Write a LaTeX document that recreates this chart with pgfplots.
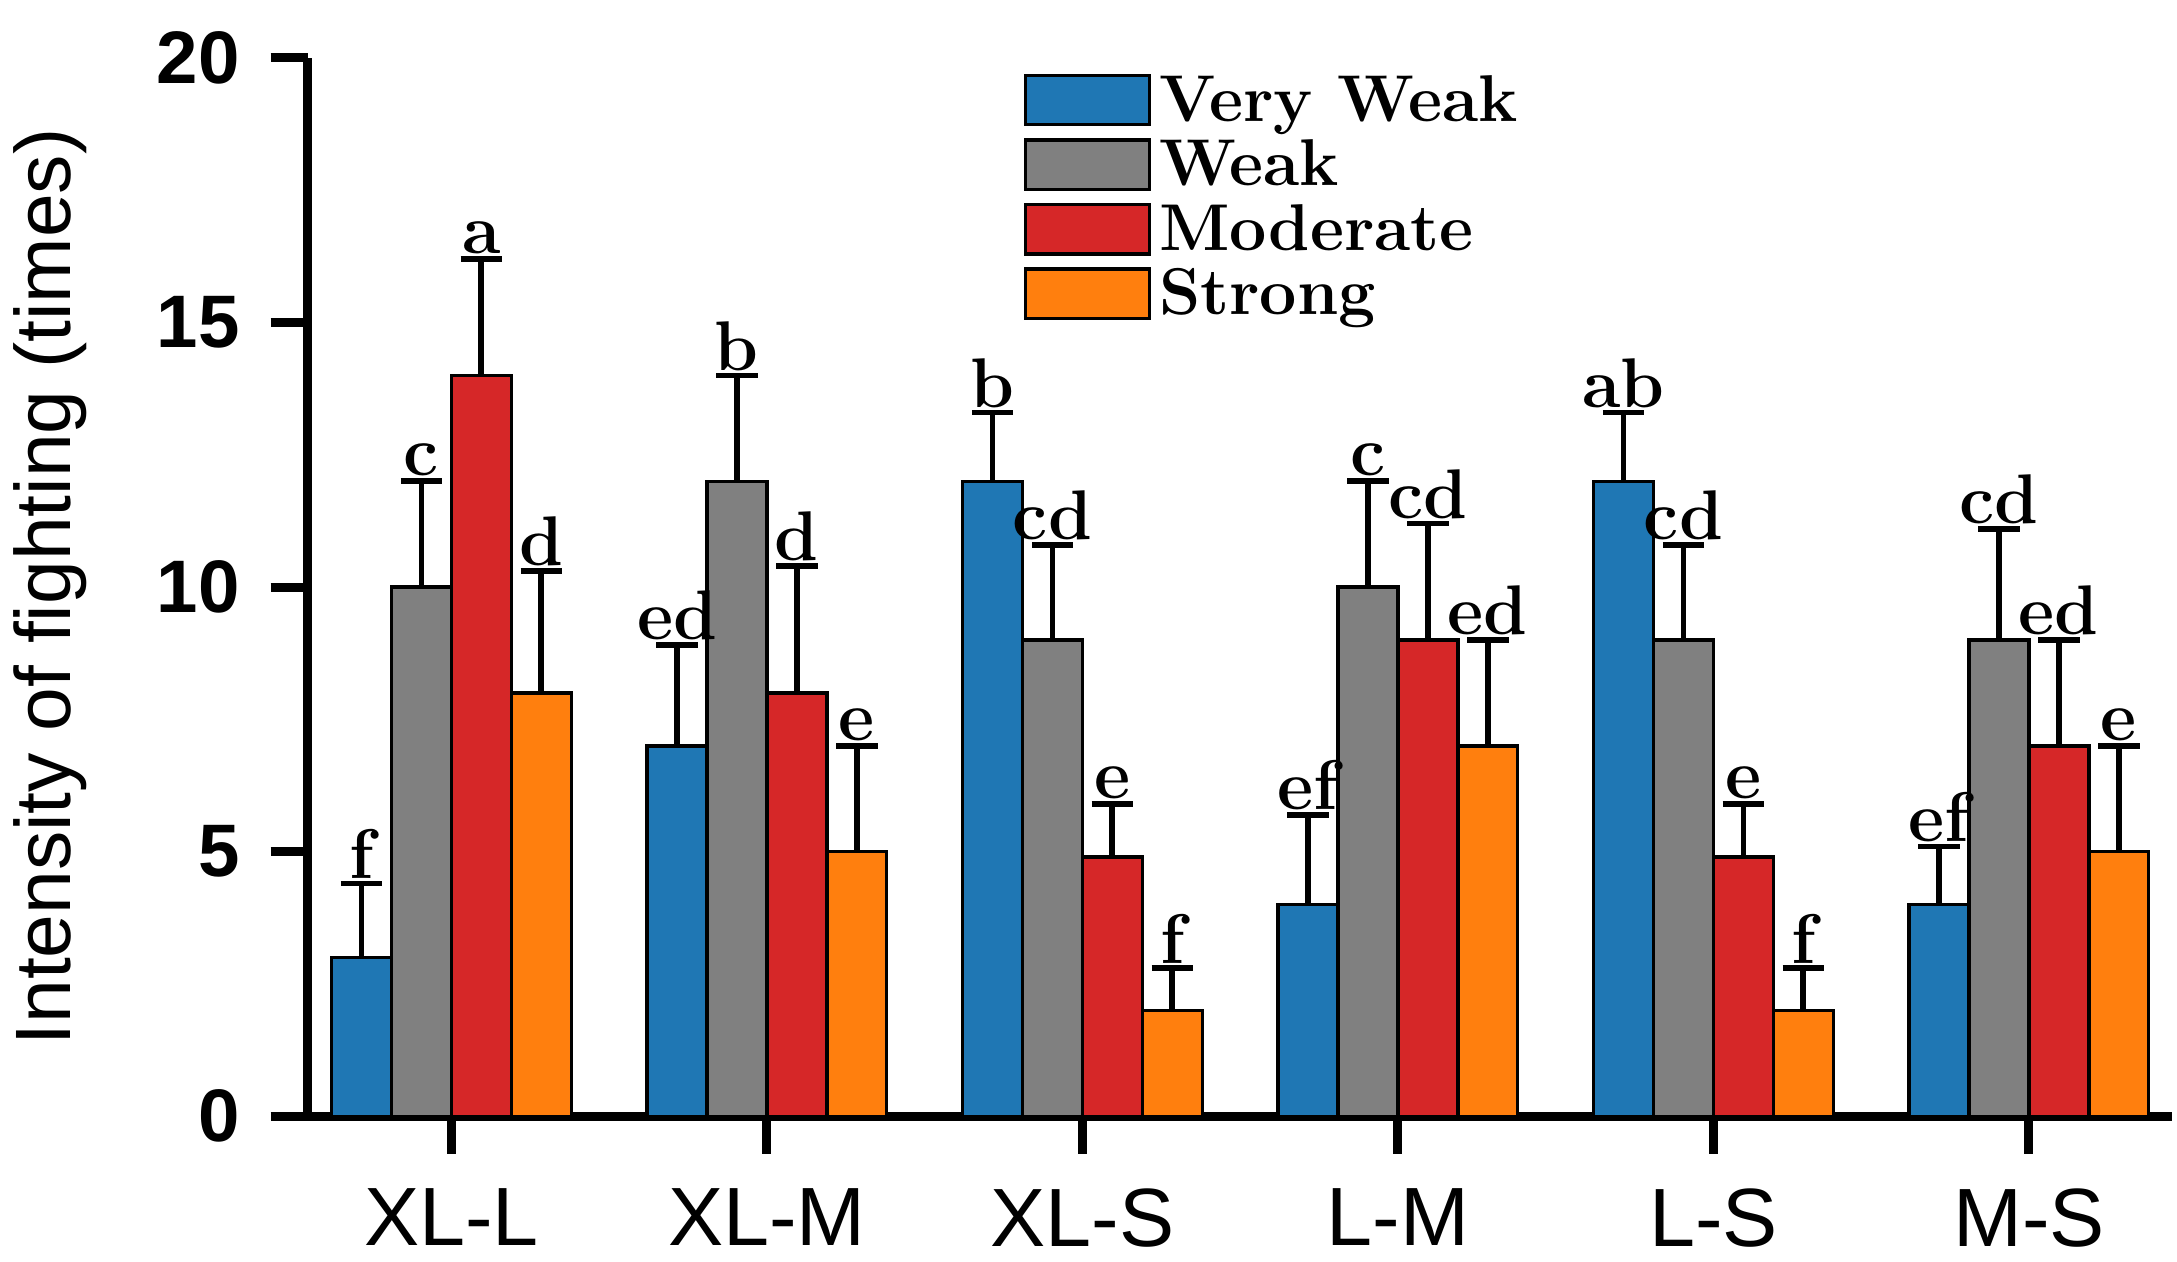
\documentclass[border=0pt]{standalone}
\usepackage{pgfplots}
\pgfplotsset{compat=1.18}
\usepackage{pgfplotstable}
\usepackage{fontspec}
\setsansfont{Liberation Sans}
\definecolor{cb}{RGB}{31,119,180}
\definecolor{cg}{RGB}{128,128,128}
\definecolor{cr}{RGB}{214,39,40}
\definecolor{co}{RGB}{255,127,14}
\pgfplotstableread{
x v1 t1 l1 v2 t2 l2 v3 t3 l3 v4 t4 l4
0 3 4.4 f 10 12 c 14 16.2 a 8 10.3 d
1 7 8.9 ed 12 14 b 8 10.4 d 5 7 e
2 12 13.3 b 9 10.8 cd 4.9 5.9 e 2 2.8 f
3 4 5.7 ef 10 12 c 9 11.2 cd 7 9 ed
4 12 13.3 ab 9 10.8 cd 4.9 5.9 e 2 2.8 f
5 4 5.1 ef 9 11.1 cd 7 9 ed 5 7 e
}\data
\pgfplotsset{
  errb/.style={draw=none, mark=none, forget plot,
    error bars/.cd, y dir=plus, y explicit, error bar style={line width=1.4pt,black},
    error mark options={rotate=90,mark size=5pt,line width=1.4pt,black}},
  lab/.style={draw=none, mark=none, forget plot, nodes near coords, point meta=explicit symbolic,
    every node near coord/.style={font=\bfseries\fontsize{17}{17}\selectfont, anchor=south, inner sep=1pt}},
  barst/.style={ybar, bar width=0.19, draw=black, line width=0.8pt},
}
\begin{document}
\begin{tikzpicture}
\begin{axis}[
  width=451pt, height=256pt, scale only axis,
  xmin=-0.455, xmax=5.455, ymin=0, ymax=20,
  axis x line*=bottom, axis y line*=left,
  axis line style={line width=2.2pt},
  xtick={0,1,2,3,4,5}, xticklabels={XL-L,XL-M,XL-S,L-M,L-S,M-S},
  ytick={0,5,10,15,20},
  tick style={line width=2.2pt,black},
  major tick length=9pt,
  xtick align=outside, ytick align=outside,
  xticklabel style={font=\sffamily\fontsize{20}{20}\selectfont, yshift=-5pt},
  yticklabel style={font=\sffamily\bfseries\fontsize{18}{18}\selectfont, xshift=-4pt},
  /pgf/number format/assume math mode=true,
  ylabel={\sffamily\fontsize{19}{19}\selectfont Intensity of fighting (times)},
  ylabel style={yshift=10pt},
  legend cell align=left,
  legend style={draw=none, fill=none, at={(rel axis cs:0.377,1.0)}, anchor=north west,
    font=\bfseries\fontsize{16}{16}\selectfont, row sep=-1pt,
    /tikz/every even column/.append style={column sep=16pt}},
  legend image code/.code={\draw[#1,line width=0.8pt] (0cm,-0.2cm) rectangle (1.05cm,0.22cm);},
  clip=false,
]
\addplot[barst, bar shift=-0.285, fill=cb] table[x=x, y=v1]{\data};
\addplot[barst, bar shift=-0.095, fill=cg] table[x=x, y=v2]{\data};
\addplot[barst, bar shift=0.095, fill=cr] table[x=x, y=v3]{\data};
\addplot[barst, bar shift=0.285, fill=co] table[x=x, y=v4]{\data};
\legend{Very Weak,Weak,Moderate,Strong}
\addplot[errb] table[x expr=\thisrow{x}-0.285, y=v1, y error expr=\thisrow{t1}-\thisrow{v1}]{\data};
\addplot[errb] table[x expr=\thisrow{x}-0.095, y=v2, y error expr=\thisrow{t2}-\thisrow{v2}]{\data};
\addplot[errb] table[x expr=\thisrow{x}+0.095, y=v3, y error expr=\thisrow{t3}-\thisrow{v3}]{\data};
\addplot[errb] table[x expr=\thisrow{x}+0.285, y=v4, y error expr=\thisrow{t4}-\thisrow{v4}]{\data};
\addplot[lab] table[x expr=\thisrow{x}-0.285, y=t1, meta=l1]{\data};
\addplot[lab] table[x expr=\thisrow{x}-0.095, y=t2, meta=l2]{\data};
\addplot[lab] table[x expr=\thisrow{x}+0.095, y=t3, meta=l3]{\data};
\addplot[lab] table[x expr=\thisrow{x}+0.285, y=t4, meta=l4]{\data};
\path (rel axis cs:0,1) ++(0,14pt) coordinate (topx);
\path (topx) -- (rel axis cs:0,1);
\end{axis}
\end{tikzpicture}
\end{document}
